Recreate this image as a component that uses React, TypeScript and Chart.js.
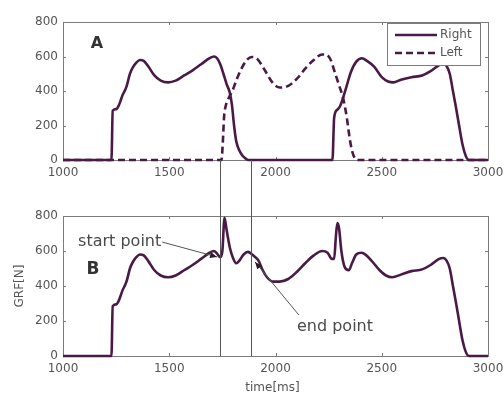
import React, { useEffect, useRef } from 'react';
import { Chart, registerables } from 'chart.js';
Chart.register(...registerables);

// ---- data (time in ms, force in N) ----
const rightTime = [1000, 1228, 1234, 1250, 1262, 1270, 1280, 1292, 1300, 1315, 1330, 1345, 1362, 1380, 1400, 1430, 1460, 1495, 1530, 1570, 1610, 1650, 1690, 1710, 1725, 1740, 1755, 1770, 1785, 1795, 1805, 1815, 1830, 1845, 1860, 1872, 2268, 2276, 2290, 2303, 2318, 2335, 2355, 2380, 2407, 2430, 2465, 2500, 2530, 2555, 2590, 2640, 2690, 2730, 2770, 2790, 2805, 2820, 2835, 2850, 2864, 2880, 2895, 2910, 3000];
const rightForce = [0, 0, 285, 295, 315, 340, 375, 405, 430, 500, 540, 565, 580, 575, 545, 490, 460, 450, 460, 490, 520, 555, 590, 600, 590, 555, 500, 440, 390, 320, 200, 110, 55, 25, 8, 0, 0, 245, 290, 310, 360, 430, 510, 570, 590, 575, 540, 480, 455, 450, 465, 480, 490, 515, 550, 560, 545, 500, 400, 300, 200, 90, 25, 0, 0];

const leftTime = [1000, 1746, 1752, 1758, 1765, 1780, 1797, 1815, 1840, 1865, 1890, 1915, 1950, 1985, 2020, 2060, 2100, 2140, 2180, 2220, 2240, 2260, 2280, 2300, 2318, 2335, 2350, 2362, 2375, 2386, 3000];
const leftForce = [0, 0, 100, 250, 310, 360, 400, 460, 530, 580, 597, 585, 520, 450, 420, 430, 470, 530, 580, 612, 610, 580, 505, 430, 360, 250, 118, 45, 8, 0, 0];

const grfTime = [1000, 1228, 1234, 1250, 1262, 1270, 1280, 1292, 1300, 1315, 1330, 1345, 1362, 1380, 1400, 1430, 1460, 1495, 1530, 1570, 1610, 1650, 1690, 1710, 1725, 1740, 1750, 1760, 1770, 1785, 1800, 1815, 1830, 1850, 1870, 1885, 1900, 1920, 1940, 1960, 1990, 2020, 2060, 2100, 2140, 2180, 2220, 2245, 2265, 2276, 2284, 2291, 2299, 2310, 2325, 2345, 2360, 2380, 2405, 2425, 2455, 2490, 2520, 2550, 2590, 2640, 2690, 2730, 2770, 2790, 2805, 2820, 2835, 2850, 2864, 2880, 2895, 2910, 3000];
const grfForce = [0, 0, 285, 295, 315, 340, 375, 405, 430, 500, 540, 565, 580, 575, 545, 490, 460, 450, 460, 490, 520, 555, 590, 600, 585, 565, 600, 790, 720, 620, 560, 530, 545, 580, 595, 585, 570, 545, 490, 450, 425, 425, 440, 480, 530, 575, 600, 590, 555, 555, 680, 760, 730, 600, 510, 490, 530, 580, 590, 578, 540, 490, 460, 450, 465, 485, 495, 520, 555, 560, 545, 500, 400, 300, 200, 90, 25, 0, 0];

const xTicks = [1000, 1500, 2000, 2500, 3000];
const yTicks = [0, 200, 400, 600, 800];
const markerTimes = [1740, 1885];
const seriesNames = ['Right', 'Left'];
const panelNames = ['A', 'B'];
const yTitle = 'GRF[N]';
const xTitle = 'time[ms]';
const startNote = { text: 'start point', x: 1071, y: 651, tipX: 1725, tipY: 566 };
const endNote = { text: 'end point', x: 2101, y: 166, fromX: 2110, fromY: 234, tipX: 1904, tipY: 537 };

const LINE = '#4a1a46';
const FRAME = '#7c7c7c';
const TEXT = '#555555';
const FONT = '"DejaVu Sans", sans-serif';

const toPts = (t: number[], v: number[]) => t.map((x, i) => ({ x, y: v[i] }));

function arrow(ctx: CanvasRenderingContext2D, x1: number, y1: number, x2: number, y2: number) {
  ctx.beginPath();
  ctx.moveTo(x1, y1);
  ctx.lineTo(x2, y2);
  ctx.stroke();
  const a = Math.atan2(y2 - y1, x2 - x1);
  const L = 7, W = 3;
  ctx.beginPath();
  ctx.moveTo(x2, y2);
  ctx.lineTo(x2 - L * Math.cos(a) + W * Math.sin(a), y2 - L * Math.sin(a) - W * Math.cos(a));
  ctx.lineTo(x2 - L * Math.cos(a) - W * Math.sin(a), y2 - L * Math.sin(a) + W * Math.cos(a));
  ctx.closePath();
  ctx.fill();
}

function makeOptions(padTop: number, xHeight: number): any {
  return {
    responsive: false,
    animation: false,
    layout: { padding: { top: padTop, right: 16, left: 0, bottom: 0 } },
    plugins: { legend: { display: false }, tooltip: { enabled: false } },
    elements: { point: { radius: 0 } },
    scales: {
      x: {
        type: 'linear', min: 1000, max: 3000,
        afterFit: (s: any) => { s.height = xHeight; s.paddingRight = 0; s.paddingLeft = 0; },
        afterBuildTicks: (s: any) => { s.ticks = xTicks.map((v) => ({ value: v })); },
        grid: { display: false, drawTicks: false },
        border: { display: false },
        ticks: { padding: 6, maxRotation: 0, color: TEXT, font: { family: FONT, size: 12 }, callback: (v: any) => String(v) },
      },
      y: {
        type: 'linear', min: 0, max: 800,
        afterFit: (s: any) => { s.width = 63; s.paddingTop = 0; s.paddingBottom = 0; },
        afterBuildTicks: (s: any) => { s.ticks = yTicks.map((v) => ({ value: v })); },
        grid: { display: false, drawTicks: false },
        border: { display: false },
        ticks: { padding: 5, color: TEXT, font: { family: FONT, size: 12 }, callback: (v: any) => String(v) },
      },
    },
  };
}

function framePlugin(id: string, extra: (chart: any) => void) {
  return {
    id,
    beforeDatasetsDraw(chart: any) {
      const { ctx, chartArea: { left, right, top, bottom }, scales: { x, y } } = chart;
      ctx.save();
      ctx.strokeStyle = FRAME;
      ctx.lineWidth = 1;
      ctx.strokeRect(Math.round(left) + 0.5, Math.round(top) + 0.5, Math.round(right - left), Math.round(bottom - top));
      ctx.beginPath();
      for (const t of xTicks) {
        const px = Math.round(x.getPixelForValue(t)) + 0.5;
        ctx.moveTo(px, bottom); ctx.lineTo(px, bottom - 3);
        ctx.moveTo(px, top); ctx.lineTo(px, top + 3);
      }
      for (const t of yTicks) {
        const py = Math.round(y.getPixelForValue(t)) + 0.5;
        ctx.moveTo(left, py); ctx.lineTo(left + 3, py);
        ctx.moveTo(right, py); ctx.lineTo(right - 3, py);
      }
      ctx.stroke();
      ctx.restore();
    },
    afterDraw(chart: any) {
      extra(chart);
    },
  };
}

export default function App() {
  const refA = useRef<HTMLCanvasElement>(null);
  const refB = useRef<HTMLCanvasElement>(null);

  useEffect(() => {
    const lineDs = (data: any, dash: number[] = []) => ({
      data, borderColor: LINE, borderWidth: 2.6, borderDash: dash, pointRadius: 0,
      cubicInterpolationMode: 'monotone', clip: 5, fill: false,
    });

    const extraA = (chart: any) => {
      const { ctx, chartArea: { left, right, top } } = chart;
      ctx.save();
      ctx.fillStyle = '#333';
      ctx.font = `bold 16px ${FONT}`;
      ctx.textAlign = 'center';
      ctx.textBaseline = 'middle';
      ctx.fillText(panelNames[0], left + 34, top + 22);
      // legend
      const bx = right - 101, by = top + 1, bw = 93, bh = 42;
      ctx.fillStyle = '#fff';
      ctx.fillRect(bx, by, bw, bh);
      ctx.strokeStyle = FRAME;
      ctx.lineWidth = 1;
      ctx.strokeRect(bx + 0.5, by + 0.5, bw, bh);
      ctx.strokeStyle = LINE;
      ctx.lineWidth = 2.6;
      [0, 1].forEach((i) => {
        const ly = by + 12 + i * 18;
        ctx.setLineDash(i === 0 ? [] : [7, 4]);
        ctx.beginPath();
        ctx.moveTo(bx + 8, ly);
        ctx.lineTo(bx + 50, ly);
        ctx.stroke();
        ctx.setLineDash([]);
        ctx.fillStyle = TEXT;
        ctx.font = `12px ${FONT}`;
        ctx.textAlign = 'left';
        ctx.fillText(seriesNames[i], bx + 53, ly);
      });
      ctx.restore();
    };

    const extraB = (chart: any) => {
      const { ctx, chartArea: { left, right, top, bottom }, scales: { x, y } } = chart;
      ctx.save();
      // marker lines from panel A axis down to panel B axis
      ctx.strokeStyle = '#555';
      ctx.lineWidth = 1;
      ctx.beginPath();
      for (const t of markerTimes) {
        const px = Math.round(x.getPixelForValue(t)) + 0.5;
        ctx.moveTo(px, 10);
        ctx.lineTo(px, bottom);
      }
      ctx.stroke();
      // panel label
      ctx.fillStyle = '#333';
      ctx.font = `bold 17px ${FONT}`;
      ctx.textAlign = 'center';
      ctx.textBaseline = 'middle';
      ctx.fillText(panelNames[1], left + 30, top + 54);
      // annotations
      ctx.font = `16px ${FONT}`;
      ctx.fillStyle = '#4a4a4a';
      ctx.textAlign = 'left';
      const sx = x.getPixelForValue(startNote.x), sy = y.getPixelForValue(startNote.y);
      ctx.fillText(startNote.text, sx, sy);
      const sw = ctx.measureText(startNote.text).width;
      ctx.strokeStyle = '#555';
      ctx.fillStyle = '#222';
      ctx.lineWidth = 1;
      arrow(ctx, sx + sw + 1, sy, x.getPixelForValue(startNote.tipX), y.getPixelForValue(startNote.tipY));
      ctx.fillStyle = '#4a4a4a';
      ctx.fillText(endNote.text, x.getPixelForValue(endNote.x), y.getPixelForValue(endNote.y));
      ctx.fillStyle = '#222';
      arrow(ctx, x.getPixelForValue(endNote.fromX), y.getPixelForValue(endNote.fromY), x.getPixelForValue(endNote.tipX), y.getPixelForValue(endNote.tipY));
      // axis titles
      ctx.fillStyle = TEXT;
      ctx.font = `12px ${FONT}`;
      ctx.textAlign = 'center';
      ctx.fillText(xTitle, (left + right) / 2 - 3, 238);
      ctx.translate(20, (top + bottom) / 2);
      ctx.rotate(-Math.PI / 2);
      ctx.fillText(yTitle, 0, 0);
      ctx.restore();
    };

    const chartA = new Chart(refA.current!, {
      type: 'line',
      data: {
        datasets: [
          lineDs(toPts(rightTime, rightForce)),
          lineDs(toPts(leftTime, leftForce), [7, 4]),
        ],
      } as any,
      options: makeOptions(22, 35),
      plugins: [framePlugin('frameA', extraA)],
    });
    const chartB = new Chart(refB.current!, {
      type: 'line',
      data: { datasets: [lineDs(toPts(grfTime, grfForce))] } as any,
      options: makeOptions(66, 37),
      plugins: [framePlugin('frameB', extraB)],
    });
    return () => { chartA.destroy(); chartB.destroy(); };
  }, []);

  return (
    <div style={{ position: 'absolute', left: 0, top: 0, width: 504, height: 393, background: '#fff', overflow: 'hidden' }}>
      <canvas ref={refA} width={504} height={195} style={{ position: 'absolute', left: 0, top: 0, display: 'block' }} />
      <canvas ref={refB} width={504} height={243} style={{ position: 'absolute', left: 0, top: 150, display: 'block' }} />
    </div>
  );
}
